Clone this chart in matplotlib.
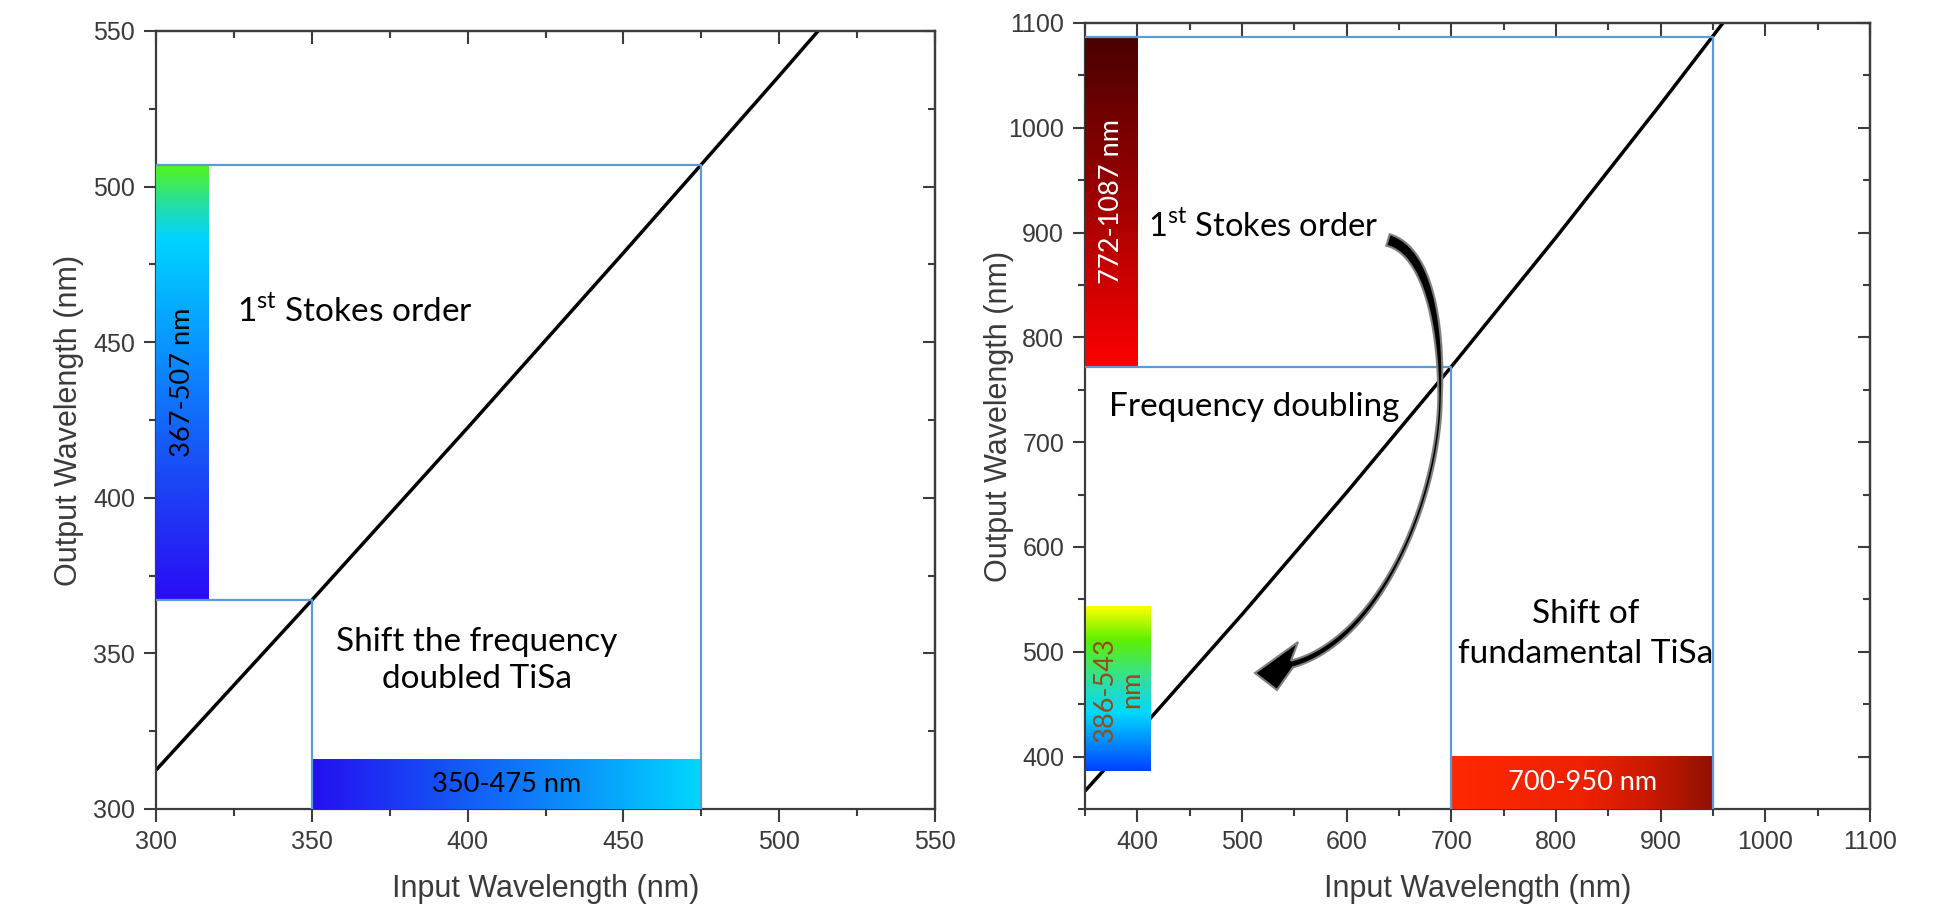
import numpy as np
import matplotlib.pyplot as plt
from matplotlib.colors import LinearSegmentedColormap
from matplotlib.patches import Polygon
from matplotlib.ticker import MultipleLocator

plt.rcParams['mathtext.fontset'] = 'custom'
plt.rcParams['mathtext.rm'] = 'Lato'

# Raman output vs input wavelength (nm)
input_uv = [300, 350, 400, 450, 475, 500, 515]
output_uv = [312.5, 367.1, 422.5, 478.7, 507.1, 535.6, 552.9]

input_ir = [350, 400, 500, 600, 700, 800, 900, 950, 960]
output_ir = [367.1, 422.5, 535.6, 652.1, 772.0, 895.4, 1022.6, 1087.7, 1100.7]

# tuning ranges (nm)
uv_pump = (350, 475)
uv_stokes = (367, 507)
ir_pump = (700, 950)
ir_stokes = (772, 1087)
ir_doubled = (386, 543)

uv_lim = (300, 550)
ir_lim = (350, 1100)
uv_ticks = [300, 350, 400, 450, 500, 550]
ir_ticks = [400, 500, 600, 700, 800, 900, 1000, 1100]

W, H = 1948, 924
fig = plt.figure(figsize=(W / 100, H / 100), dpi=100)

tick_font = 'Liberation Sans'
note_font = 'Lato'
frame = '#3c3c3c'
box_blue = '#5b9bd5'
note_size = 24
bar_size = 19.5

cm_uv_v = LinearSegmentedColormap.from_list('uvv', [(0, '#2a0cf5'), (0.3, '#1a4cf5'), (0.55, '#0a8cff'),
                                                    (0.83, '#00d4ff'), (0.9, '#20dcb0'), (1, '#55f51a')])
cm_uv_h = LinearSegmentedColormap.from_list('uvh', ['#2410f0', '#1650f5', '#0a90fa', '#00d8ff'])
cm_red_v = LinearSegmentedColormap.from_list('redv', ['#ff0000', '#a00000', '#480000'])
cm_red_h = LinearSegmentedColormap.from_list('redh', [(0, '#ff2800'), (0.5, '#ee2200'), (0.75, '#cc1a00'), (1, '#901000')])
cm_vis_v = LinearSegmentedColormap.from_list('visv', [(0, '#0040ff'), (0.35, '#00d8ff'), (0.55, '#30e0a0'),
                                                      (0.8, '#60f000'), (1, '#ffff00')])

grad = np.linspace(0, 1, 256)


def gradient_bar(ax, x0, x1, y0, y1, cmap, vertical):
    img = grad[:, None] if vertical else grad[None, :]
    ax.imshow(img, cmap=cmap, extent=[x0, x1, y0, y1], origin='lower',
              aspect='auto', interpolation='bilinear', zorder=3)


def style_axes(ax, lim, ticks, minor):
    ax.set_xlim(lim)
    ax.set_ylim(lim)
    ax.set_xticks(ticks)
    ax.set_yticks(ticks)
    ax.xaxis.set_minor_locator(MultipleLocator(minor))
    ax.yaxis.set_minor_locator(MultipleLocator(minor))
    ax.tick_params(which='both', direction='out', width=1.5, color=frame,
                   labelsize=18, labelcolor='#3a3a3a', pad=6)
    ax.tick_params(which='major', length=9)
    ax.tick_params(which='minor', length=5)
    for lab in ax.get_xticklabels() + ax.get_yticklabels():
        lab.set_fontfamily(tick_font)
    for sp in ax.spines.values():
        sp.set_color(frame)
        sp.set_linewidth(1.6)
    # inward ticks on top and right
    top = ax.secondary_xaxis('top')
    top.set_xticks(ticks)
    top.xaxis.set_minor_locator(MultipleLocator(minor))
    top.tick_params(which='both', direction='in', labeltop=False, width=1.5, color=frame)
    top.tick_params(which='major', length=9)
    top.tick_params(which='minor', length=5)
    top.spines['top'].set_color(frame)
    top.spines['top'].set_linewidth(1.6)
    right = ax.secondary_yaxis('right')
    right.set_yticks(ticks)
    right.yaxis.set_minor_locator(MultipleLocator(minor))
    right.tick_params(which='both', direction='in', labelright=False, width=1.5, color=frame)
    right.tick_params(which='major', length=9)
    right.tick_params(which='minor', length=5)
    right.spines['right'].set_color(frame)
    right.spines['right'].set_linewidth(1.6)
    ax.set_xlabel('Input Wavelength (nm)', fontsize=22, color='#3a3a3a', family=tick_font)
    ax.set_ylabel('Output Wavelength (nm)', fontsize=22, color='#3a3a3a', family=tick_font)


# ---- left panel: frequency doubled TiSa ----
ax1 = fig.add_axes([156 / W, 1 - 809 / H, 779 / W, 778 / H])
ax1.plot(input_uv, output_uv, color='black', lw=2.5, zorder=2, solid_capstyle='butt')
ax1.plot([uv_lim[0], uv_pump[1], uv_pump[1]], [uv_stokes[1], uv_stokes[1], uv_lim[0]],
         color=box_blue, lw=1.6, zorder=4)
ax1.plot([uv_lim[0], uv_pump[0], uv_pump[0]], [uv_stokes[0], uv_stokes[0], uv_lim[0]],
         color=box_blue, lw=1.6, zorder=4)
gradient_bar(ax1, uv_lim[0], uv_lim[0] + 17, uv_stokes[0], uv_stokes[1], cm_uv_v, True)
gradient_bar(ax1, uv_pump[0], uv_pump[1], uv_lim[0], uv_lim[0] + 16, cm_uv_h, False)
style_axes(ax1, uv_lim, uv_ticks, 25)
ax1.xaxis.set_label_coords(0.5, -0.083)
ax1.yaxis.set_label_coords(-0.093, 0.5)

ax1.text(uv_lim[0] + 8.5, sum(uv_stokes) / 2, f'{uv_stokes[0]}-{uv_stokes[1]} nm', rotation=90,
         ha='center', va='center', fontsize=bar_size, family=note_font, color='black', zorder=5)
ax1.text(sum(uv_pump) / 2, uv_lim[0] + 8, f'{uv_pump[0]}-{uv_pump[1]} nm',
         ha='center', va='center', fontsize=bar_size, family=note_font, color='black', zorder=5)
ax1.text(326, 460, '1$^{\\rm st}$ Stokes order', ha='left', va='center', fontsize=note_size,
         family=note_font, zorder=5)
ax1.text(403, 347.6, 'Shift the frequency\ndoubled TiSa', ha='center', va='center',
         multialignment='center', linespacing=1.3, fontsize=note_size, family=note_font, zorder=5)

# ---- right panel: fundamental TiSa ----
ax2 = fig.add_axes([1085 / W, 1 - 809 / H, 785 / W, 786 / H])
ax2.plot(input_ir, output_ir, color='black', lw=2.5, zorder=2, solid_capstyle='butt')
ax2.plot([ir_lim[0], ir_pump[1], ir_pump[1]], [ir_stokes[1], ir_stokes[1], ir_lim[0]],
         color=box_blue, lw=1.6, zorder=4)
ax2.plot([ir_lim[0], ir_pump[0], ir_pump[0]], [ir_stokes[0], ir_stokes[0], ir_lim[0]],
         color=box_blue, lw=1.6, zorder=4)
gradient_bar(ax2, ir_lim[0], ir_lim[0] + 50, ir_stokes[0], ir_stokes[1], cm_red_v, True)
gradient_bar(ax2, ir_pump[0], ir_pump[1], ir_lim[0], ir_lim[0] + 50, cm_red_h, False)
gradient_bar(ax2, ir_lim[0] + 1, ir_lim[0] + 63, ir_doubled[0], ir_doubled[1], cm_vis_v, True)
style_axes(ax2, ir_lim, ir_ticks, 50)
ax2.xaxis.set_label_coords(0.5, -0.083)
ax2.yaxis.set_label_coords(-0.090, 0.5)

ax2.text(ir_lim[0] + 25, sum(ir_stokes) / 2, f'{ir_stokes[0]}-{ir_stokes[1]} nm', rotation=90,
         ha='center', va='center', fontsize=bar_size, family=note_font, color='white', zorder=5)
ax2.text(sum(ir_pump) / 2, ir_lim[0] + 25, f'{ir_pump[0]}-{ir_pump[1]} nm',
         ha='center', va='center', fontsize=bar_size, family=note_font, color='white', zorder=5)
ax2.text(ir_lim[0] + 32, 464, f'{ir_doubled[0]}-{ir_doubled[1]}\nnm', rotation=90,
         ha='center', va='center', multialignment='center', linespacing=1.1,
         fontsize=bar_size, family=note_font, color='#974a16', zorder=5)
ax2.text(410, 906, '1$^{\\rm st}$ Stokes order', ha='left', va='center', fontsize=23.5,
         family=note_font, zorder=5)
ax2.text(373, 733.6, 'Frequency doubling', ha='left', va='center', fontsize=note_size,
         family=note_font, zorder=5)
ax2.text(828, 517, 'Shift of\nfundamental TiSa', ha='center', va='center',
         multialignment='center', linespacing=1.4, fontsize=note_size, family=note_font, zorder=5)


# curved arrow from the Stokes label down to the doubling region (pixel space)
def bezier(p0, p1, p2, p3, n):
    t = np.linspace(0, 1, n)[:, None]
    p0, p1, p2, p3 = map(np.asarray, (p0, p1, p2, p3))
    return (1 - t) ** 3 * p0 + 3 * (1 - t) ** 2 * t * p1 + 3 * (1 - t) * t ** 2 * p2 + t ** 3 * p3


seg1 = bezier((1388, 240), (1426, 250), (1442, 320), (1440, 400), 60)
seg2 = bezier((1440, 400), (1438, 500), (1380, 640), (1292, 664), 80)
path = np.vstack([seg1, seg2[1:]])
dist = np.r_[0, np.cumsum(np.hypot(*np.diff(path, axis=0).T))]
s = dist / dist[-1]
width = np.interp(s, [0, 0.12, 0.35, 0.7, 1.0], [12, 9, 3.5, 4, 7])
tang = np.gradient(path, axis=0)
tang /= np.hypot(tang[:, 0], tang[:, 1])[:, None]
norm = np.c_[-tang[:, 1], tang[:, 0]]
side_a = path + norm * width[:, None] / 2
side_b = path - norm * width[:, None] / 2

tip = np.array([1255, 673])
barb_1 = np.array([1298, 642])
barb_2 = np.array([1277, 690])
if np.hypot(*(side_a[-1] - barb_1)) > np.hypot(*(side_a[-1] - barb_2)):
    barb_1, barb_2 = barb_2, barb_1
outline = np.vstack([side_a, barb_1, tip, barb_2, side_b[::-1]])
outline_fig = np.c_[outline[:, 0] / W, 1 - outline[:, 1] / H]
ax2.add_patch(Polygon(outline_fig, closed=True, transform=fig.transFigure, clip_on=False,
                      facecolor='black', edgecolor='#808080', lw=1.5, zorder=6))

fig.savefig('out.png', dpi=100)
